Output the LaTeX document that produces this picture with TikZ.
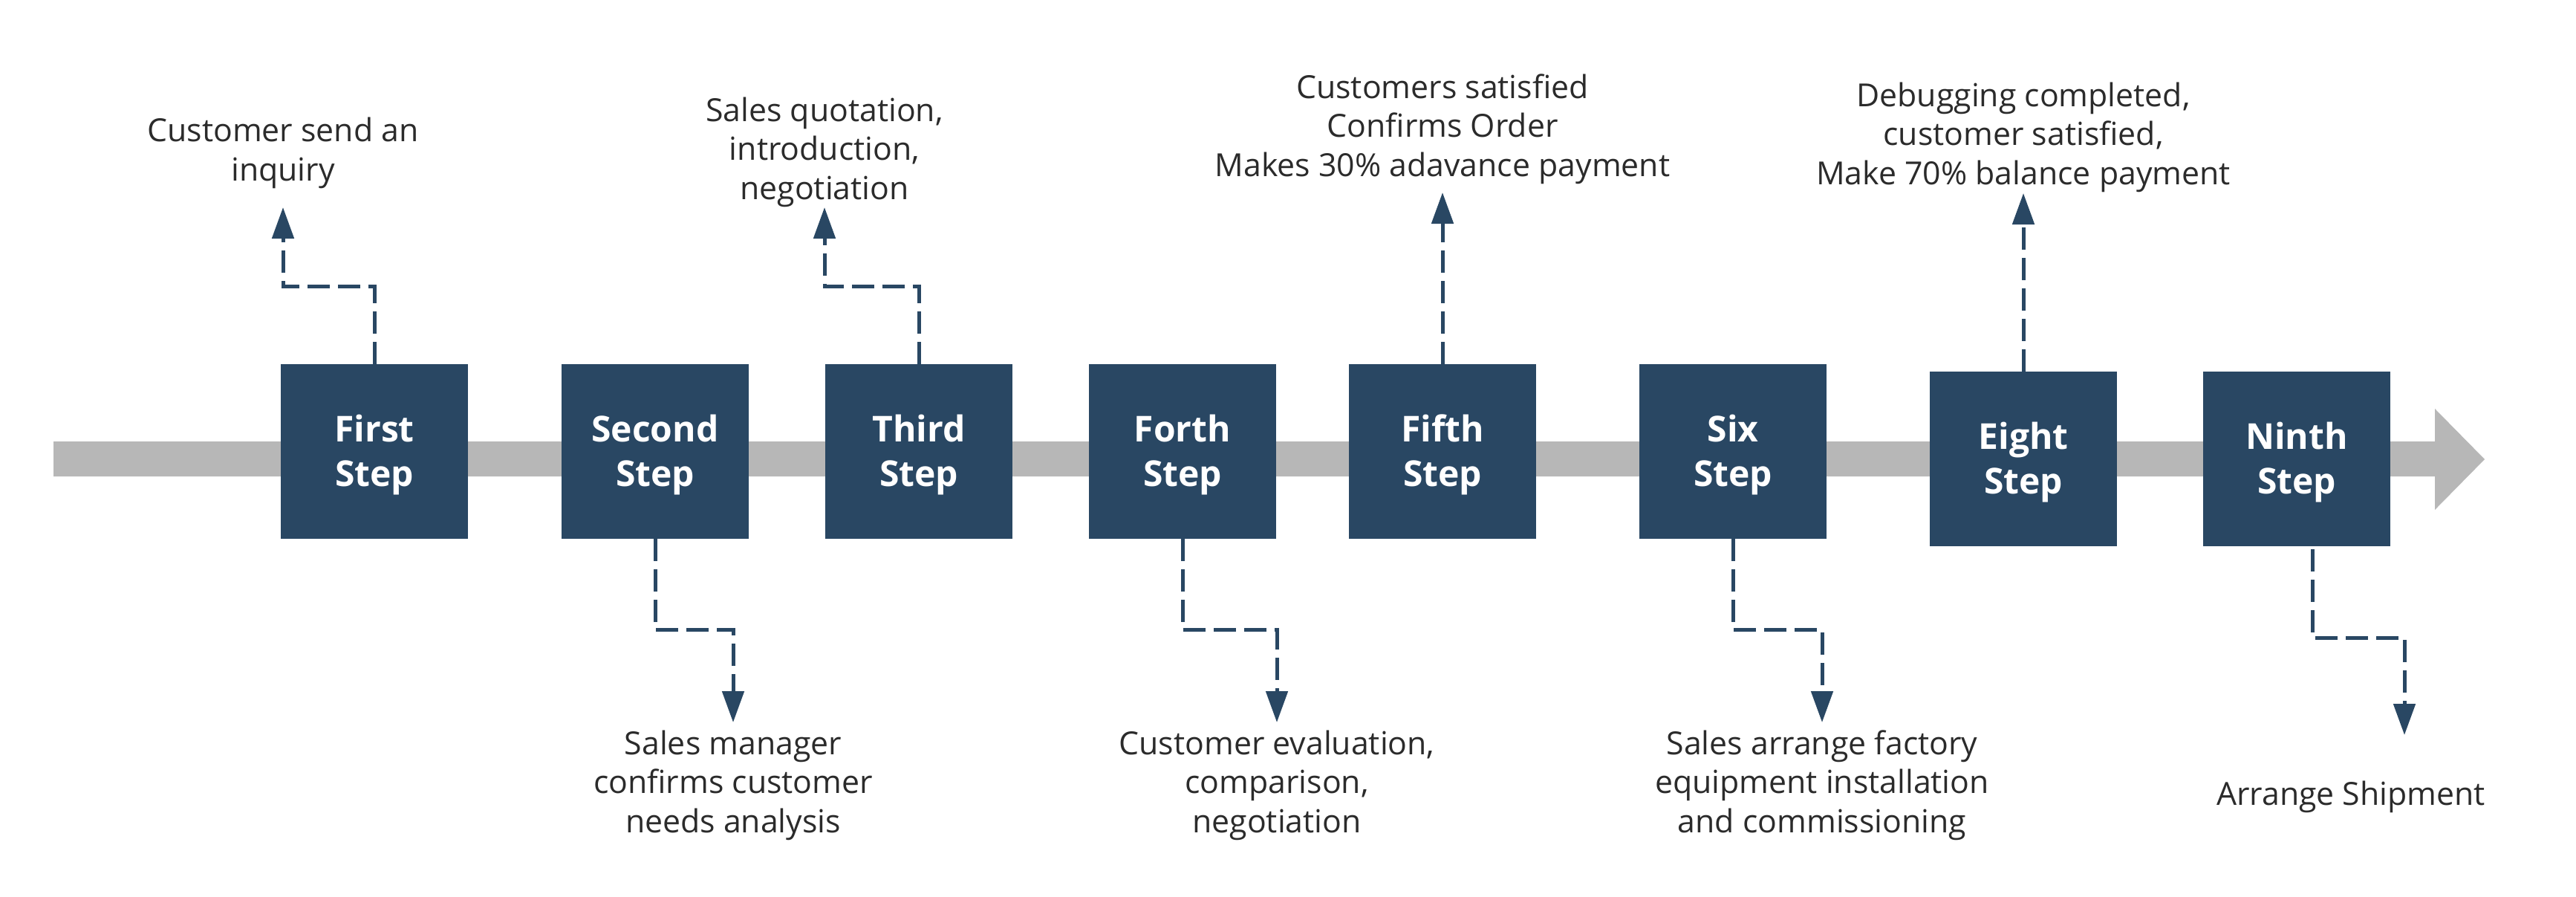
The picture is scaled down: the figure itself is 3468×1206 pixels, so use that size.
\documentclass[tikz,border=0pt]{standalone}
\usepackage{fontspec}
\setmainfont{Open Sans}
\usetikzlibrary{arrows.meta}
\definecolor{boxblue}{HTML}{294763}
\definecolor{bargray}{HTML}{B7B7B7}
\definecolor{txtgray}{HTML}{2B2B2B}
\newcommand\toprule{\rule{0pt}{23pt}}
\begin{document}
\begin{tikzpicture}[x=0.5pt,y=-0.5pt,
  stepbox/.style={fill=boxblue, draw=none, minimum width=126pt, minimum height=117.5pt,
    inner sep=0pt, text=white, align=center, font=\fontsize{24}{30}\selectfont\bfseries},
  desc/.style={text=txtgray, align=center, font=\fontsize{21.4}{26.25}\selectfont,
    inner sep=0pt, anchor=base},
  conn/.style={draw=boxblue, line width=2.5pt, dash pattern=on 15pt off 5.5pt,
    -{Triangle[length=21pt,width=14.5pt]}}]
\fill[white] (0,0) rectangle (3468,1206);
\useasboundingbox (0,0) rectangle (3468,1206);
% timeline bar
\fill[bargray] (72,594) -- (3278,594) -- (3278,550) -- (3345,618) -- (3278,686)
  -- (3278,641) -- (72,641) -- cycle;
% step boxes
\node[stepbox] (b1) at (504,607.5) {\toprule First\\Step};
\node[stepbox] (b2) at (882,607.5) {\toprule Second\\Step};
\node[stepbox] (b3) at (1237,607.5) {\toprule Third\\Step};
\node[stepbox] (b4) at (1592,607.5) {\toprule Forth\\Step};
\node[stepbox] (b5) at (1942,607.5) {\toprule Fifth\\Step};
\node[stepbox] (b6) at (2333,607.5) {\toprule Six\\Step};
\node[stepbox] (b7) at (2724,617.5) {\toprule Eight\\Step};
\node[stepbox] (b8) at (3092,617.5) {\toprule Ninth\\Step};
% arrow tips
\coordinate (t1) at (381,279);
\coordinate (t2) at (987,972);
\coordinate (t3) at (1110,279);
\coordinate (t4) at (1719,972);
\coordinate (t5) at (1942,259);
\coordinate (t6) at (2453,972);
\coordinate (t7) at (2724,260);
\coordinate (t8) at (3237,989);
% labels (base = baseline of last line)
\node[desc] (l1) at (381,243) {Customer send an\\inquiry};
\node[desc] (l2) at (987,1120) {Sales manager\\confirms customer\\needs analysis};
\node[desc] (l3) at (1110,268) {Sales quotation,\\introduction,\\negotiation};
\node[desc] (l4) at (1719,1120) {Customer evaluation,\\comparison,\\negotiation};
\node[desc] (l5) at (1942,237) {Customers satisfied\\Confirms Order\\Makes 30\% adavance payment};
\node[desc] (l6) at (2453,1120) {Sales arrange factory\\equipment installation\\and commissioning};
\node[desc] (l7) at (2724,248) {Debugging completed,\\customer satisfied,\\Make 70\% balance payment};
\node[desc] (l8) at (3165,1083) {Arrange Shipment};
% connectors
\draw[conn] (b1.north) -- ++(0,-104) -| (t1);
\draw[conn] (b2.south) -- ++(0,122) -| (t2);
\draw[conn] (b3.north) -- ++(0,-104) -| (t3);
\draw[conn] (b4.south) -- ++(0,122) -| (t4);
\draw[conn] (b5.north) -- (t5);
\draw[conn] (b6.south) -- ++(0,122) -| (t6);
\draw[conn] (b7.north) -- (t7);
\draw[conn] ([xshift=10.5pt,yshift=-2pt]b8.south) -- ++(0,119) -| (t8);
\end{tikzpicture}
\end{document}
